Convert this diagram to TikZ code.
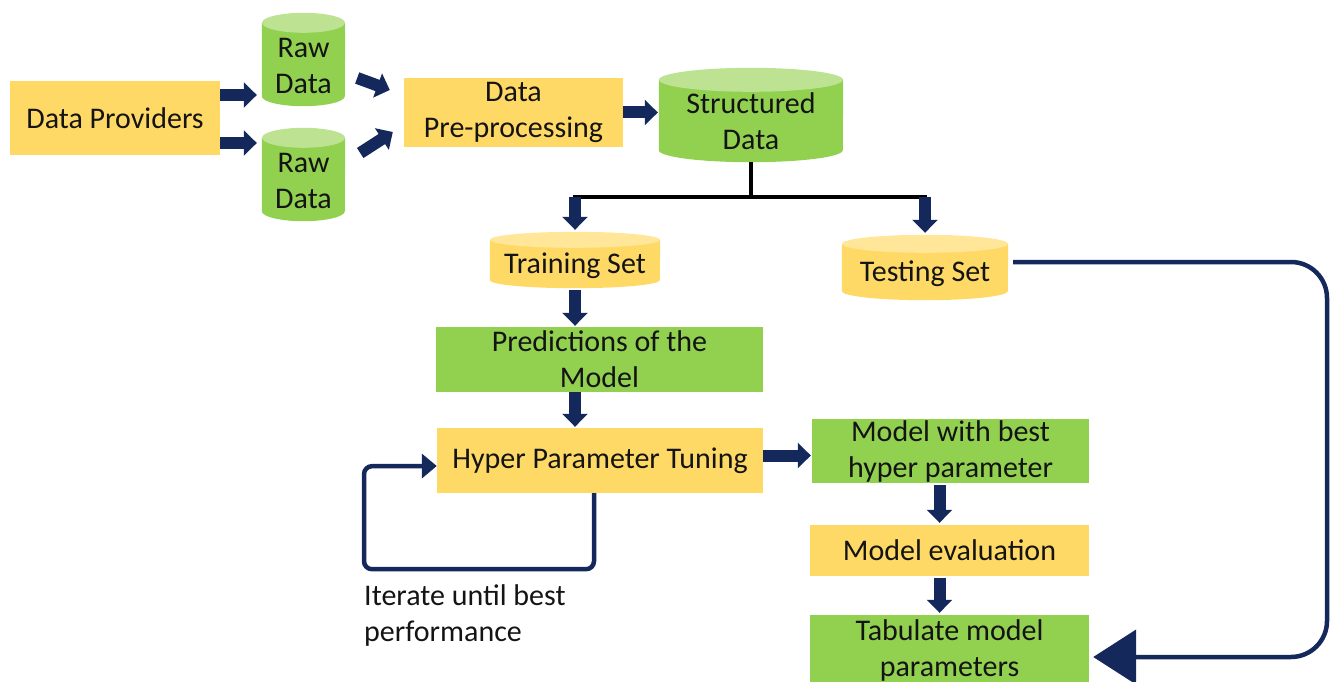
\documentclass[tikz,border=0pt]{standalone}
\usepackage{fontspec}
\setmainfont{Carlito}
\usetikzlibrary{arrows.meta,calc}

\definecolor{boxyellow}{HTML}{FFD966}
\definecolor{topyellow}{HTML}{FFE699}
\definecolor{boxgreen}{HTML}{92D050}
\definecolor{topgreen}{HTML}{BCE292}
\definecolor{navy}{HTML}{14285C}
\definecolor{ink}{HTML}{141414}

\newcommand\flowfont{\fontsize{30}{36}\selectfont}

\tikzset{
  lbl/.style={inner sep=0pt, align=center, font=\flowfont, text=ink},
  ybox/.style={rectangle, fill=boxyellow, inner sep=0pt, align=center, font=\flowfont, text=ink},
  gbox/.style={rectangle, fill=boxgreen, inner sep=0pt, align=center, font=\flowfont, text=ink},
  blk/.style={draw=navy, line width=12pt, -{Triangle[length=13pt,width=25pt]}},
  splitline/.style={draw=black, line width=4pt},
  loopline/.style={draw=navy, line width=4.5pt},
}

% drum (cylinder): name, centre x, centre y, width, height, ellipse radius, body colour, top colour, text
\newcommand\drum[9]{%
  \node[minimum width=#4pt, minimum height=#5pt, inner sep=0pt] (#1) at (#2,#3) {};
  \fill[#7] ([yshift=-#6pt]#1.north west) -- ([yshift=#6pt]#1.south west)
     arc[start angle=180, end angle=360, x radius=#4pt/2, y radius=#6pt]
     -- ([yshift=-#6pt]#1.north east) -- cycle;
  \fill[#8] ([yshift=-#6pt]#1.north) ellipse[x radius=#4pt/2, y radius=#6pt];
  \node[lbl] (#1-text) at ([yshift=-6pt]#1.center) {#9};
}

\begin{document}
\begin{tikzpicture}[x=1pt,y=1pt]
\useasboundingbox (0,0) rectangle (1334,-682);

% boxes
\node[ybox, minimum width=210pt, minimum height=74pt] (prov) at (115,-118) {Data Providers};
\node[ybox, minimum width=219pt, minimum height=69pt] (pre) at (513.5,-112.5) {Data\\Pre-processing};
\node[gbox, minimum width=327pt, minimum height=65pt] (pred) at (599.5,-359.5) {Predictions of the\\Model};
\node[ybox, minimum width=326pt, minimum height=65pt] (hyper) at (600,-460.5) {Hyper Parameter Tuning};
\node[gbox, minimum width=277pt, minimum height=64pt] (best) at (950.5,-451) {Model with best\\hyper parameter};
\node[ybox, minimum width=279pt, minimum height=51pt] (eval) at (949.5,-550.5) {Model evaluation};
\node[gbox, minimum width=279pt, minimum height=70pt] (tab) at (949.5,-650) {Tabulate model\\parameters};

% drums
\drum{raw1}{303.5}{-59.5}{83}{93}{10}{boxgreen}{topgreen}{Raw\\Data}
\drum{raw2}{303.5}{-174.5}{83}{93}{10}{boxgreen}{topgreen}{Raw\\Data}
\drum{struct}{751}{-115}{184}{94}{12}{boxgreen}{topgreen}{Structured\\Data}
\drum{train}{575}{-260}{170}{56}{8}{boxyellow}{topyellow}{Training Set}
\drum{test}{925}{-267.5}{166}{65}{9}{boxyellow}{topyellow}{Testing Set}

% note under the tuning loop
\node[lbl, anchor=west, align=left] (note) at (364,-615) {Iterate until best\\performance};

% providers to raw data
\coordinate (p1) at ([yshift=23pt]prov.east);
\coordinate (p2) at ([yshift=-25pt]prov.east);
\draw[blk, shorten >=5pt] (p1) -- (p1 -| raw1.west);
\draw[blk, shorten >=5pt] (p2) -- (p2 -| raw2.west);

% raw data to pre-processing
\draw[blk] ($(raw1.east)+(12,-18.5)$) -- ($(pre.west)+(-14,22.5)$);
\draw[blk] ($(raw2.east)+(15,21.5)$) -- ($(pre.west)+(-11,-19.5)$);

% pre-processing to structured data
\draw[blk, shorten >=1pt] (pre.east) -- (pre.east -| struct.west);

% split into training and testing sets
\coordinate (sp) at ($(struct.south)+(0,-35)$);
\draw[splitline] (struct.south) -- (sp);
\draw[splitline] ($(sp -| train)+(-2,0)$) -- ($(sp -| test)+(2,0)$);
\draw[blk, shorten >=2pt] (sp -| train) -- (train.north);
\draw[blk, shorten >=2pt] (sp -| test) -- (test.north);

% main column
\draw[blk, shorten <=2pt, shorten >=1pt] (train.south) -- (train.south |- pred.north);
\draw[blk, shorten >=1pt] (pred.south -| train.south) -- (hyper.north -| train.south);
\coordinate (h1) at ([yshift=5pt]hyper.east);
\draw[blk, shorten >=1pt] (h1) -- (h1 -| best.west);
\draw[blk] ($(best.south)+(-11,-2)$) -- ($(eval.north)+(-10,2)$);
\draw[blk] ($(eval.south)+(-10,-2)$) -- ($(tab.north)+(-10,2)$);

% tuning loop
\draw[loopline, rounded corners=8pt, -{Triangle[length=15pt,width=24pt]}]
  ($(hyper.south)+(-6,0)$) -- ++(0,-76) -- ++(-230,0) -- ++(0,103) -- ($(hyper.west)+(0,-5.5)$);

% testing set to tabulation
\coordinate (tr) at (1327,-262);
\coordinate (br) at (1327,-657);
\draw[loopline, rounded corners=36pt, -{Triangle[length=43pt,width=54pt]}]
  ($(test.east)+(5,5.5)$) -- (tr) -- (br) -- ($(tab.east)+(4,-7)$);
\end{tikzpicture}
\end{document}
